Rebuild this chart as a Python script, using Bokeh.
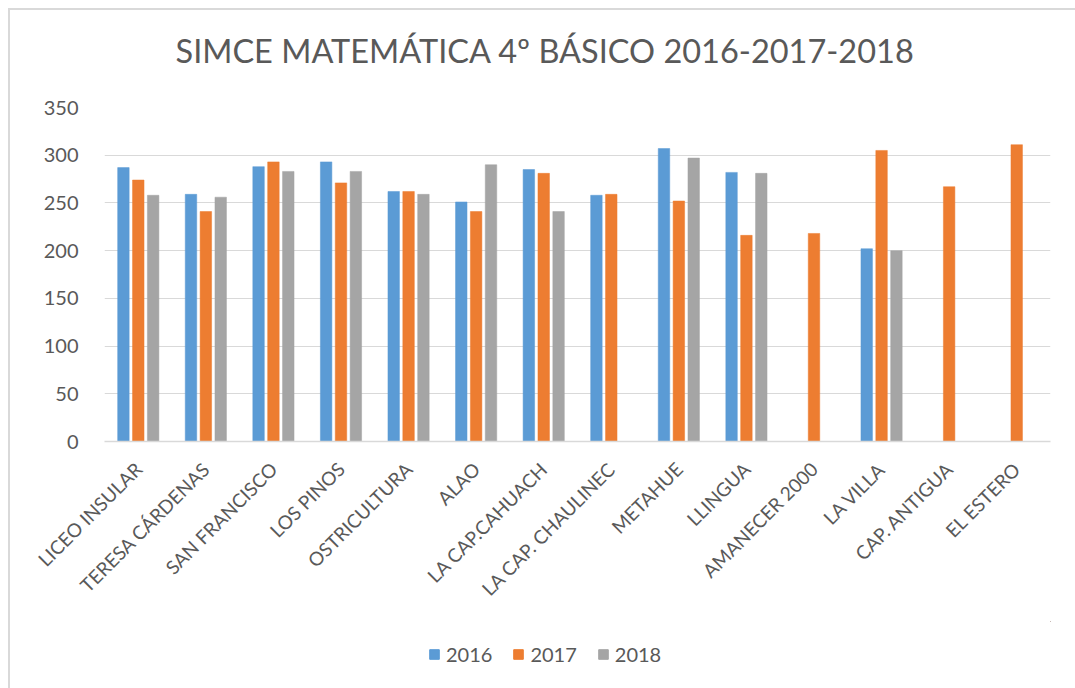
import math
from bokeh.plotting import figure
from bokeh.layouts import column
from bokeh.models import (ColumnDataSource, FactorRange, Range1d, Legend, LegendItem,
                          FixedTicker, Title)
from bokeh.transform import dodge
from bokeh.embed import file_html
from bokeh.resources import INLINE

nan = float("nan")

schools = ["LICEO INSULAR", "TERESA CÁRDENAS", "SAN FRANCISCO", "LOS PINOS",
           "OSTRICULTURA", "ALAO", "LA CAP.CAHUACH", "LA CAP. CHAULINEC",
           "METAHUE", "LLINGUA", "AMANECER 2000", "LA VILLA", "CAP. ANTIGUA", "EL ESTERO"]
y2016 = [287, 259, 288, 293, 262, 251, 285, 258, 307, 282, nan, 202, nan, nan]
y2017 = [274, 241, 293, 271, 262, 241, 281, 259, 252, 216, 218, 305, 267, 311]
y2018 = [258, 256, 283, 283, 259, 290, 241, nan, 297, 281, nan, 200, nan, nan]
years = ["2016", "2017", "2018"]
y_ticks = [0, 50, 100, 150, 200, 250, 300, 350]
colors = ["#5B9BD5", "#ED7D31", "#A5A5A5"]

src = ColumnDataSource(dict(x=schools, y2016=y2016, y2017=y2017, y2018=y2018))

FONT = "Lato"
TXT = "#595959"

p = figure(x_range=FactorRange(*schools, range_padding=0), y_range=Range1d(0, y_ticks[-1]),
           frame_width=946, frame_height=334, output_backend="svg", toolbar_location=None,
           min_border_left=94, min_border_right=25, min_border_top=97, min_border_bottom=180,
           outline_line_color=None, title=None)

# spacer between title and plot area
p.add_layout(Title(text=" ", text_font_size="19px"), "above")
p.add_layout(Title(text="SIMCE MATEMÁTICA 4º BÁSICO 2016-2017-2018", align="left", offset=71,
                   text_font=FONT, text_font_style="normal", text_font_size="32.5px",
                   text_color=TXT), "above")

for key, off, col in zip(["y2016", "y2017", "y2018"], [-0.22, 0.0, 0.22], colors):
    p.vbar(x=dodge("x", off, range=p.x_range), top=key, width=0.17, source=src,
           fill_color=col, line_color=col, line_width=0.5)

p.yaxis.ticker = FixedTicker(ticks=y_ticks)
p.yaxis.axis_line_color = None
p.yaxis.major_tick_line_color = None
p.yaxis.minor_tick_line_color = None
p.yaxis.major_label_text_font = FONT
p.yaxis.major_label_text_font_size = "20px"
p.yaxis.major_label_text_color = TXT
p.yaxis.major_label_standoff = 20

p.xaxis.axis_line_color = "#d9d9d9"
p.xaxis.axis_line_width = 1.5
p.xaxis.major_tick_line_color = None
p.xaxis.minor_tick_line_color = None
p.xaxis.major_label_orientation = math.pi / 4
p.xaxis.major_label_text_font = FONT
p.xaxis.major_label_text_font_size = "19px"
p.xaxis.major_label_text_color = TXT
p.xaxis.major_label_standoff = 18

p.xgrid.grid_line_color = None
p.ygrid.grid_line_color = "#d9d9d9"
p.ygrid.grid_line_width = 1.2

# legend strip underneath (its frame is aligned with the chart's frame)
lg = figure(width=1065, height=67, x_range=Range1d(0, 1), y_range=Range1d(0, 1),
            output_backend="svg", toolbar_location=None, min_border=0,
            outline_line_color=None)
lg.axis.visible = False
lg.grid.grid_line_color = None
# one off-screen bar per series so the legend swatches get drawn
dummy = [lg.vbar(x=[5], top=[5], bottom=[4], width=0.1, fill_color=c, line_color=c)
         for c in colors]
legend = Legend(items=[LegendItem(label=y, renderers=[r]) for y, r in zip(years, dummy)],
                orientation="horizontal", location=(324, 22),
                glyph_width=12, glyph_height=12, label_standoff=6, spacing=20,
                padding=0, margin=0, border_line_color=None, background_fill_alpha=0,
                label_text_font=FONT, label_text_font_size="20px", label_text_color=TXT)
lg.add_layout(legend, "center")

layout = column(p, lg, spacing=0,
                styles={"margin-left": "8px", "margin-top": "8px",
                        "border-left": "2px solid #d9d9d9", "border-top": "2px solid #d9d9d9"})

open("out.html", "w").write(file_html(layout, INLINE))
